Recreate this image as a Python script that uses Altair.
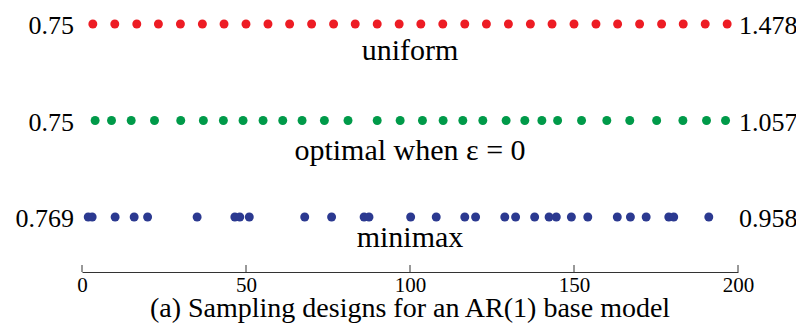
import altair as alt
import pandas as pd

# ---- data ----
X_MIN, X_MAX = 0, 200
tick_values = [0, 50, 100, 150, 200]
designs = ["uniform", "optimal when ε = 0", "minimax"]
colors = ["#ED1C24", "#009A49", "#2B3990"]
left_values = ["0.75", "0.75", "0.769"]
right_values = ["1.478", "1.057", "0.958"]

uniform_x = [3.3, 10.0, 16.7, 23.3, 30.0, 36.7, 43.3, 50.0, 56.7, 63.3,
             70.0, 76.7, 83.3, 90.0, 96.7, 103.3, 110.0, 116.7, 123.3, 130.0,
             136.7, 143.3, 150.0, 156.7, 163.3, 170.0, 176.7, 183.3, 190.0, 196.7]
optimal_x = [4.0, 9.0, 15.0, 22.1, 30.1, 37.0, 43.1, 49.1, 55.2, 61.2,
             67.1, 73.9, 81.1, 90.0, 97.0, 103.8, 110.1, 116.1, 122.2, 129.3,
             135.0, 140.2, 145.0, 152.3, 160.0, 167.0, 175.2, 183.2, 190.4, 196.2]
minimax_x = [1.9, 3.1, 10.1, 15.9, 20.0, 35.1, 46.6, 48.1, 51.0, 67.9,
             76.1, 86.0, 87.5, 100.2, 108.0, 116.7, 120.0, 128.9, 132.2, 138.0,
             142.4, 144.6, 149.2, 154.2, 163.2, 167.2, 172.0, 178.9, 180.4, 191.1]

rows = []
for i, (name, xs) in enumerate(zip(designs, [uniform_x, optimal_x, minimax_x])):
    for v in xs:
        rows.append({"design": name, "row": i, "t": v})
points_df = pd.DataFrame(rows)
labels_df = pd.DataFrame({"design": designs, "row": list(range(len(designs))),
                          "left": left_values, "right": right_values})
ticks_df = pd.DataFrame({"t": tick_values})

# ---- styling ----
FONT = "Liberation Serif"
W, H = 656, 264
label_dy = [36, 39, 30]

xscale = alt.Scale(domain=[X_MIN, X_MAX], nice=False, zero=False)
yscale = alt.Scale(domain=[-0.166, 2.570], reverse=True, nice=False, zero=False)
xaxis = alt.Axis(orient="bottom", values=tick_values, ticks=False, tickSize=0,
                 domainColor="#333333", domainWidth=1,
                 labelFont=FONT, labelFontSize=21, labelColor="black",
                 labelPadding=2, labelFlush=False, grid=False, title=None)

points = alt.Chart(points_df).mark_circle(size=80, opacity=1).encode(
    x=alt.X("t:Q", scale=xscale, axis=xaxis),
    y=alt.Y("row:Q", scale=yscale, axis=None),
    color=alt.Color("design:N", scale=alt.Scale(domain=designs, range=colors), legend=None),
)

ticks = alt.Chart(ticks_df).mark_rule(color="#333333", strokeWidth=1).encode(
    x=alt.X("t:Q", scale=xscale, axis=xaxis),
    y=alt.value(H - 7),
    y2=alt.value(H),
)

left = alt.Chart(labels_df).transform_calculate(xl=str(X_MIN)).mark_text(
    font=FONT, fontSize=26, align="right", baseline="alphabetic", dx=-8, dy=10,
    color="black").encode(
    x=alt.X("xl:Q", scale=xscale, axis=xaxis),
    y=alt.Y("row:Q", scale=yscale, axis=None),
    text="left:N",
)

right = alt.Chart(labels_df).transform_calculate(xr=str(X_MAX)).mark_text(
    font=FONT, fontSize=26, align="left", baseline="alphabetic", dx=1, dy=10,
    color="black").encode(
    x=alt.X("xr:Q", scale=xscale, axis=xaxis),
    y=alt.Y("row:Q", scale=yscale, axis=None),
    text="right:N",
)

name_layers = []
for i, name in enumerate(designs):
    name_layers.append(
        alt.Chart(labels_df).transform_filter(alt.datum.row == i)
        .transform_calculate(xm=str((X_MIN + X_MAX) / 2))
        .mark_text(font=FONT, fontSize=30, align="center", baseline="alphabetic",
                   dy=label_dy[i], color="black")
        .encode(x=alt.X("xm:Q", scale=xscale, axis=xaxis),
                y=alt.Y("row:Q", scale=yscale, axis=None),
                text="design:N")
    )

chart = alt.layer(points, ticks, left, right, *name_layers).properties(
    width=W, height=H,
    padding={"left": 74, "top": 0, "right": 58, "bottom": 53},
    autosize=alt.AutoSizeParams(type="none"),
    background="white",
    title=alt.TitleParams("(a) Sampling designs for an AR(1) base model", orient="bottom",
                          anchor="middle", font=FONT, fontSize=28, fontWeight="normal",
                          color="black", baseline="alphabetic", offset=22),
).configure_view(strokeWidth=0, stroke="transparent")

chart.save("out.html", embed_options={"renderer": "svg", "actions": False})
